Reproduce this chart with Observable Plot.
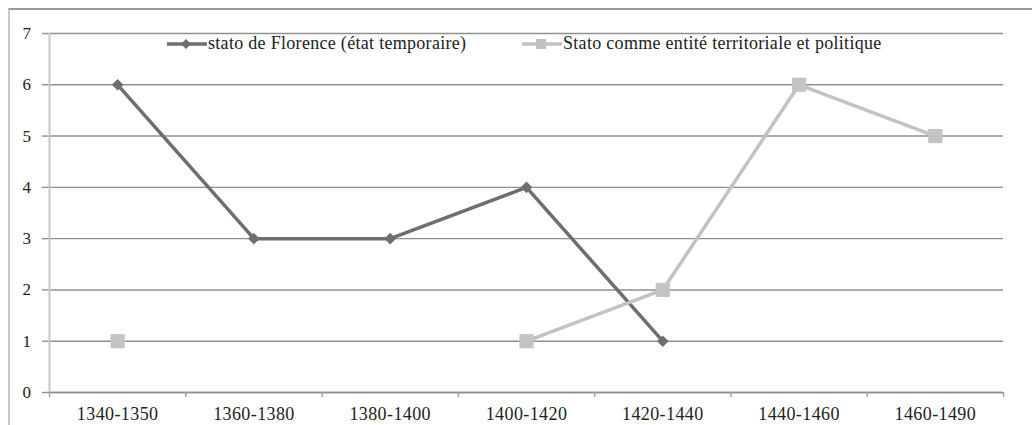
<!DOCTYPE html>
<html>
<head>
<meta charset="utf-8">
<script src="https://cdn.jsdelivr.net/npm/d3@7"></script>
<script src="https://cdn.jsdelivr.net/npm/@observablehq/plot@0.6"></script>
<style>
  html, body { margin: 0; padding: 0; background: #fff; }
  #wrap { position: relative; width: 1032px; height: 425px; overflow: hidden; }
  #frame { position: absolute; left: 8px; top: 8px; right: -10px; bottom: -10px;
           border-top: 2px solid #999; border-left: 2px solid #c8c8c8; pointer-events: none; }
  .leg { position: absolute; top: 33px; display: flex; align-items: center;
         font-family: 'Liberation Serif', 'Times New Roman', 'DejaVu Serif', serif; font-size: 18px; letter-spacing: 0.3px; color: #222; }
  .leg svg { display: block; }
  #chart { position: absolute; left: 0; top: 0; }
</style>
</head>
<body>
<div id="wrap">
  <div id="chart"></div>
  <div id="frame"></div>
  <div class="leg" style="left:167px">
    <svg width="40" height="16"><line x1="0" x2="40" y1="8" y2="8" stroke="#6e6e6e" stroke-width="3.5"/><path d="M19,3 L24,8 L19,13 L14,8 Z" fill="#6e6e6e"/></svg>
    <span style="margin-left:1px">stato de Florence (état temporaire)</span>
  </div>
  <div class="leg" style="left:522px">
    <svg width="40" height="16"><line x1="0" x2="40" y1="8" y2="8" stroke="#c2c2c2" stroke-width="3.5"/><rect x="14" y="3" width="10" height="10" fill="#c2c2c2"/></svg>
    <span style="margin-left:1px">Stato comme entité territoriale et politique</span>
  </div>
</div>
<script>
const categories = ["1340-1350", "1360-1380", "1380-1400", "1400-1420", "1420-1440", "1440-1460", "1460-1490"];
const florence = [6, 3, 3, 4, 1, null, null];
const territoriale = [1, null, null, 1, 2, 6, 5];
const yTicks = [0, 1, 2, 3, 4, 5, 6, 7];

const rows1 = categories.map((c, i) => ({i, v: florence[i]}));
const rows2 = categories.map((c, i) => ({i, v: territoriale[i]}));
const idx = categories.map((c, i) => i);
const bounds = [...idx.map(i => i - 0.5), categories.length - 0.5];
const serif = "'Liberation Serif', 'Times New Roman', 'DejaVu Serif', serif";

const chart = Plot.plot({
  width: 1032,
  height: 425,
  marginLeft: 49,
  marginRight: 29,
  marginTop: 33,
  marginBottom: 33,
  style: {fontFamily: serif, fontSize: "17px", color: "#222", background: "transparent", letterSpacing: "0.4px"},
  x: {type: "linear", domain: [-0.5, categories.length - 0.5]},
  y: {domain: [0, 7]},
  marks: [
    Plot.gridY(yTicks, {stroke: "#8f8f8f", strokeOpacity: 1, strokeWidth: 1.4}),
    Plot.axisY(yTicks, {tickSize: 7, tickPadding: 11, tickFormat: d3.format("d"), stroke: "#8f8f8f", strokeWidth: 1.4, label: null, fontSize: 17, fontFamily: serif}),
    Plot.ruleX([-0.5], {stroke: "#c8c8c8", strokeWidth: 2}),
    Plot.ruleY([0], {stroke: "#8f8f8f", strokeWidth: 1.6}),
    Plot.axisX(bounds, {tickSize: 5, tickFormat: () => "", stroke: "#a0a0a0", strokeWidth: 1.4, label: null}),
    Plot.axisX(idx, {tickSize: 0, tickPadding: 15, tickFormat: i => categories[i], label: null, fontSize: 18, fontFamily: serif}),
    Plot.line(rows1, {x: "i", y: "v", stroke: "#6e6e6e", strokeWidth: 3.5}),
    Plot.line(rows2, {x: "i", y: "v", stroke: "#c2c2c2", strokeWidth: 3.5}),
    Plot.dot(rows1.filter(d => d.v != null), {x: "i", y: "v", symbol: "diamond2", r: 5.2, fill: "#6e6e6e", stroke: "none"}),
    Plot.dot(rows2.filter(d => d.v != null), {x: "i", y: "v", symbol: "square", r: 8, fill: "#c4c4c4", stroke: "none"})
  ]
});
document.getElementById("chart").appendChild(chart);
</script>
</body>
</html>
